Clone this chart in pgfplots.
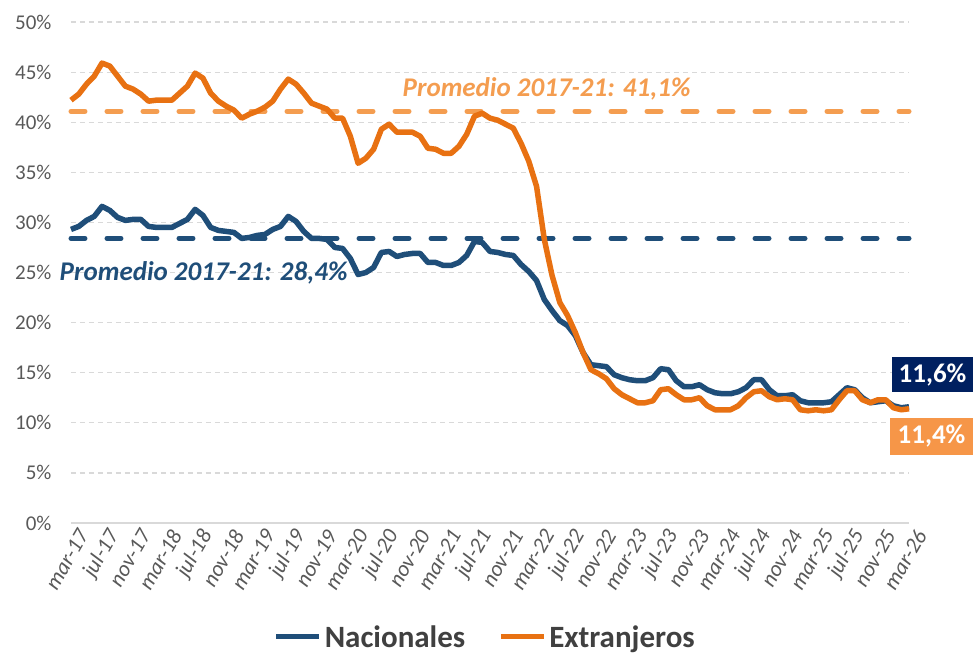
\documentclass[border=0pt]{standalone}
\usepackage{pgfplots}
\usepackage{pgfplotstable}
\pgfplotsset{compat=1.18}
\usepackage{fontspec}
\setmainfont{Carlito}

\definecolor{nac}{RGB}{31,78,121}
\definecolor{ext}{RGB}{232,113,18}
\definecolor{extlight}{RGB}{244,157,80}
\definecolor{navybox}{RGB}{0,32,96}
\definecolor{orbox}{RGB}{246,150,72}
\definecolor{gridc}{RGB}{217,217,217}
\definecolor{tickc}{RGB}{89,89,89}
\definecolor{legc}{RGB}{64,64,64}

\pgfplotstableread{
i n e
0 29.3 42.2
1 29.6 42.8
2 30.2 43.8
3 30.6 44.6
4 31.6 45.9
5 31.2 45.6
6 30.5 44.6
7 30.2 43.6
8 30.3 43.3
9 30.3 42.8
10 29.6 42.1
11 29.5 42.2
12 29.5 42.2
13 29.5 42.2
14 29.9 42.9
15 30.3 43.6
16 31.3 44.9
17 30.7 44.4
18 29.5 42.9
19 29.2 42.1
20 29.1 41.6
21 29.0 41.2
22 28.4 40.4
23 28.5 40.8
24 28.7 41.1
25 28.8 41.5
26 29.3 42.1
27 29.6 43.3
28 30.6 44.3
29 30.1 43.8
30 29.1 42.9
31 28.4 41.9
32 28.4 41.6
33 28.3 41.3
34 27.5 40.4
35 27.4 40.4
36 26.4 38.6
37 24.8 35.9
38 25.0 36.4
39 25.5 37.3
40 27.0 39.3
41 27.1 39.8
42 26.6 39.0
43 26.8 39.0
44 26.9 39.0
45 26.9 38.6
46 26.0 37.4
47 26.0 37.3
48 25.7 36.9
49 25.7 36.9
50 26.0 37.6
51 26.7 38.8
52 28.1 40.6
53 28.0 40.9
54 27.1 40.4
55 27.0 40.2
56 26.8 39.8
57 26.7 39.4
58 25.8 37.9
59 25.1 36.1
60 24.2 33.6
61 22.3 28.3
62 21.2 24.7
63 20.2 22.0
64 19.7 20.7
65 18.7 19.0
66 17.0 17.0
67 15.8 15.3
68 15.7 14.9
69 15.6 14.4
70 14.8 13.4
71 14.5 12.8
72 14.3 12.4
73 14.2 12.0
74 14.2 12.0
75 14.5 12.2
76 15.4 13.3
77 15.3 13.4
78 14.2 12.8
79 13.6 12.3
80 13.6 12.3
81 13.8 12.5
82 13.3 11.7
83 13.0 11.3
84 12.9 11.3
85 12.9 11.3
86 13.1 11.7
87 13.5 12.5
88 14.3 13.1
89 14.3 13.2
90 13.3 12.6
91 12.7 12.3
92 12.7 12.4
93 12.8 12.3
94 12.2 11.3
95 12.0 11.2
96 12.0 11.3
97 12.0 11.2
98 12.1 11.3
99 12.8 12.3
100 13.5 13.2
101 13.3 13.2
102 12.5 12.3
103 12.0 12.0
104 12.1 12.3
105 12.2 12.3
106 11.7 11.5
107 11.5 11.3
108 11.6 11.4
}\datatable

\pgfplotstableread{
x avgn avge
0 28.4 41.1
108 28.4 41.1
}\avgtable

\begin{document}
\begin{tikzpicture}
\begin{axis}[
  scale only axis, width=838pt, height=501pt,
  xmin=0, xmax=108, ymin=0, ymax=50,
  axis line style={draw=none},
  clip=false,
  ytick={0,5,...,50},
  yticklabels={0\%,5\%,10\%,15\%,20\%,25\%,30\%,35\%,40\%,45\%,50\%},
  yticklabel style={text=tickc, font=\fontsize{21}{21}\selectfont, xshift=-16pt},
  xtick={0,4,...,108},
  xticklabels={mar-17,jul-17,nov-17,mar-18,jul-18,nov-18,mar-19,jul-19,nov-19,mar-20,jul-20,nov-20,mar-21,jul-21,nov-21,mar-22,jul-22,nov-22,mar-23,jul-23,nov-23,mar-24,jul-24,nov-24,mar-25,jul-25,nov-25,mar-26},
  xticklabel style={rotate=60, anchor=east, text=tickc, font=\itshape\fontsize{22}{22}\selectfont, xshift=2pt, yshift=-15pt},
  tick style={draw=none},
  ymajorgrids,
  grid style={gridc, line width=1.2pt, dash pattern=on 5pt off 4pt},
  extra y ticks={0}, extra y tick labels={},
  extra y tick style={grid style={gridc, line width=1.3pt, solid}},
  legend style={at={(0.495,-0.2275)}, anchor=center, draw=none, fill=none,
    legend columns=2, font=\bfseries\fontsize{31}{31}\selectfont, text=legc,
    /tikz/every even column/.append style={column sep=30pt},
    nodes={inner xsep=3pt}},
  legend image code/.code={\draw[#1, line width=5pt, line cap=butt] (0pt,0pt) -- (43pt,0pt);},
]
\addplot[forget plot, extlight, line width=5pt, line cap=round, dash pattern=on 14pt off 22pt] table[x=x, y=avge] {\avgtable};
\addplot[forget plot, nac, line width=5pt, line cap=round, dash pattern=on 14pt off 22pt] table[x=x, y=avgn] {\avgtable};
\addplot[nac, line width=5.5pt, line join=round] table[x=i, y=n] {\datatable};
\addlegendentry{Nacionales}
\addplot[ext, line width=5.5pt, line join=round] table[x=i, y=e] {\datatable};
\addlegendentry{Extranjeros}

\node[text=extlight, font=\bfseries\itshape\fontsize{27}{27}\selectfont] at (axis cs:61.3,43.3) {Promedio 2017-21: 41,1\%};
\node[text=nac, font=\bfseries\itshape\fontsize{27}{27}\selectfont] at (axis cs:17.1,25.0) {Promedio 2017-21: 28,4\%};
\node[fill=navybox, text=white, font=\bfseries\fontsize{27}{27}\selectfont, minimum width=81pt, minimum height=35pt, inner sep=0pt] at (axis cs:111.03,14.8) {11,6\%};
\node[fill=orbox, text=white, font=\bfseries\fontsize{27}{27}\selectfont, minimum width=83pt, minimum height=37pt, inner sep=0pt] at (axis cs:110.9,8.65) {11,4\%};
\end{axis}
\path ([shift={(-71pt,-134pt)}]current axis.south west) rectangle ([shift={(902pt,523pt)}]current axis.south west);
\end{tikzpicture}
\end{document}
